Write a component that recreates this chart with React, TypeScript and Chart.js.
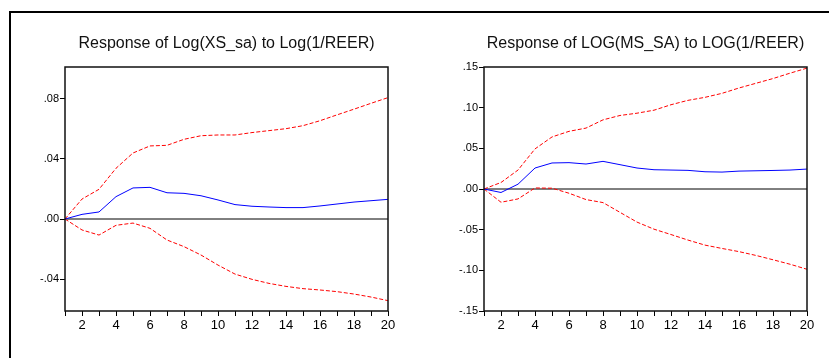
import React, { useEffect, useRef } from "react";
import { Chart, registerables } from "chart.js";

Chart.register(...registerables);

const periods = [1, 2, 3, 4, 5, 6, 7, 8, 9, 10, 11, 12, 13, 14, 15, 16, 17, 18, 19, 20];

const xsTitle = "Response of Log(XS_sa) to Log(1/REER)";
const xsResponse = [0, 0.0031, 0.0047, 0.0149, 0.0207, 0.0211, 0.0175, 0.0171, 0.0155, 0.0127, 0.0096, 0.0085, 0.008, 0.0076, 0.0076, 0.0087, 0.01, 0.0113, 0.0122, 0.0131];
const xsUpper = [0, 0.0133, 0.0198, 0.0338, 0.044, 0.0487, 0.0491, 0.0531, 0.0555, 0.056, 0.056, 0.0576, 0.0589, 0.0602, 0.0622, 0.0655, 0.0694, 0.0732, 0.0771, 0.0809];
const xsLower = [0, -0.0073, -0.0107, -0.0042, -0.0027, -0.0062, -0.014, -0.0184, -0.024, -0.0307, -0.0367, -0.0402, -0.0429, -0.0449, -0.0464, -0.0473, -0.0484, -0.05, -0.052, -0.0544];
const xsTicks = [-0.04, 0, 0.04, 0.08];

const msTitle = "Response of LOG(MS_SA) to LOG(1/REER)";
const msResponse = [0, -0.0043, 0.0059, 0.0258, 0.032, 0.0324, 0.0307, 0.034, 0.0299, 0.0258, 0.0237, 0.0233, 0.0229, 0.0212, 0.0208, 0.022, 0.0224, 0.0228, 0.0233, 0.0245];
const msUpper = [0, 0.008, 0.0233, 0.0493, 0.064, 0.0709, 0.0749, 0.085, 0.0904, 0.0932, 0.0969, 0.1036, 0.109, 0.1127, 0.1176, 0.1242, 0.13, 0.1358, 0.1424, 0.1486];
const msLower = [0, -0.0163, -0.0122, 0.0013, 0.001, -0.0052, -0.013, -0.0167, -0.0287, -0.0407, -0.0494, -0.056, -0.0628, -0.069, -0.0731, -0.077, -0.0817, -0.087, -0.0925, -0.0987];
const msTicks = [-0.15, -0.1, -0.05, 0, 0.05, 0.1, 0.15];

const FONT = '"Liberation Sans", Arial, sans-serif';

type PanelProps = {
  title: string;
  mid: number[];
  upper: number[];
  lower: number[];
  yTicks: number[];
  yMin: number;
  yMax: number;
  width: number;
  axisWidth: number;
  rightPad: number;
  left: number;
};

function fmt(v: number): string {
  const s = Number(v).toFixed(2);
  if (s === "-0.00") return ".00";
  return s.replace("0.", ".");
}

function Panel(p: PanelProps) {
  const ref = useRef<HTMLCanvasElement | null>(null);
  useEffect(() => {
    if (!ref.current) return;
    const pts = (arr: number[]) => periods.map((x, i) => ({ x, y: arr[i] }));
    const chart = new Chart(ref.current, {
      type: "line",
      data: {
        datasets: [
          { data: pts(p.mid), borderColor: "#0000ff", borderWidth: 1, pointRadius: 0, tension: 0 },
          { data: pts(p.upper), borderColor: "#ff0000", borderWidth: 1, borderDash: [4, 2], pointRadius: 0, tension: 0 },
          { data: pts(p.lower), borderColor: "#ff0000", borderWidth: 1, borderDash: [4, 2], pointRadius: 0, tension: 0 },
          { data: periods.map((x) => ({ x, y: 0 })), borderColor: "#000000", borderWidth: 1, pointRadius: 0, tension: 0 },
        ],
      },
      options: {
        animation: false,
        responsive: false,
        devicePixelRatio: 1,
        layout: { padding: { top: 67, right: p.rightPad, left: 0, bottom: 0 } },
        plugins: { legend: { display: false }, tooltip: { enabled: false }, title: { display: false } },
        scales: {
          x: {
            type: "linear",
            min: 1,
            max: 20,
            afterBuildTicks: (s: any) => {
              s.ticks = periods.map((v) => ({ value: v }));
            },
            afterFit: (s: any) => {
              s.height = 47;
            },
            border: { display: false },
            grid: { display: true, drawOnChartArea: false, drawTicks: true, tickLength: 5, color: "#000", lineWidth: 1 },
            ticks: {
              autoSkip: false,
              maxRotation: 0,
              padding: 2,
              color: "#000",
              font: { family: FONT, size: 13 },
              callback: (v: any) => (Number(v) % 2 === 0 ? String(v) : ""),
            },
          },
          y: {
            type: "linear",
            min: p.yMin,
            max: p.yMax,
            afterBuildTicks: (s: any) => {
              s.ticks = p.yTicks.map((v) => ({ value: v }));
            },
            afterFit: (s: any) => {
              s.width = p.axisWidth;
            },
            border: { display: false },
            grid: { display: true, drawOnChartArea: false, drawTicks: true, tickLength: 5, color: "#000", lineWidth: 1 },
            ticks: {
              autoSkip: false,
              padding: 1,
              color: "#000",
              font: { family: FONT, size: 11 },
              callback: (v: any) => fmt(Number(v)),
            },
          },
        },
      },
      plugins: [
        {
          id: "frameAndTitle",
          afterDraw(chart: any) {
            const { ctx, chartArea } = chart;
            const { left, top, right, bottom } = chartArea;
            ctx.save();
            ctx.strokeStyle = "#111";
            ctx.lineWidth = 1.5;
            ctx.strokeRect(left, top, right - left, bottom - top);
            ctx.font = `16px ${FONT}`;
            ctx.fillStyle = "#111";
            ctx.textAlign = "center";
            ctx.textBaseline = "alphabetic";
            ctx.fillText(p.title, (left + right) / 2, 48);
            ctx.restore();
          },
        },
      ],
    } as any);
    return () => chart.destroy();
  }, []);
  return (
    <canvas
      ref={ref}
      width={p.width}
      height={358}
      style={{ position: "absolute", left: p.left, top: 0, width: p.width, height: 358, display: "block" }}
    />
  );
}

export default function App() {
  return (
    <div style={{ position: "absolute", left: 0, top: 0, width: 829, height: 358, background: "#fff", overflow: "hidden" }}>
      <div
        style={{
          position: "absolute",
          left: 9,
          top: 11,
          width: 830,
          height: 360,
          borderTop: "2px solid #000",
          borderLeft: "2px solid #000",
        }}
      />
      <Panel title={xsTitle} mid={xsResponse} upper={xsUpper} lower={xsLower} yTicks={xsTicks} yMin={-0.0613} yMax={0.1013} width={414} axisWidth={65} rightPad={26} left={0} />
      <Panel title={msTitle} mid={msResponse} upper={msUpper} lower={msLower} yTicks={msTicks} yMin={-0.15} yMax={0.15} width={415} axisWidth={70} rightPad={22} left={414} />
    </div>
  );
}
